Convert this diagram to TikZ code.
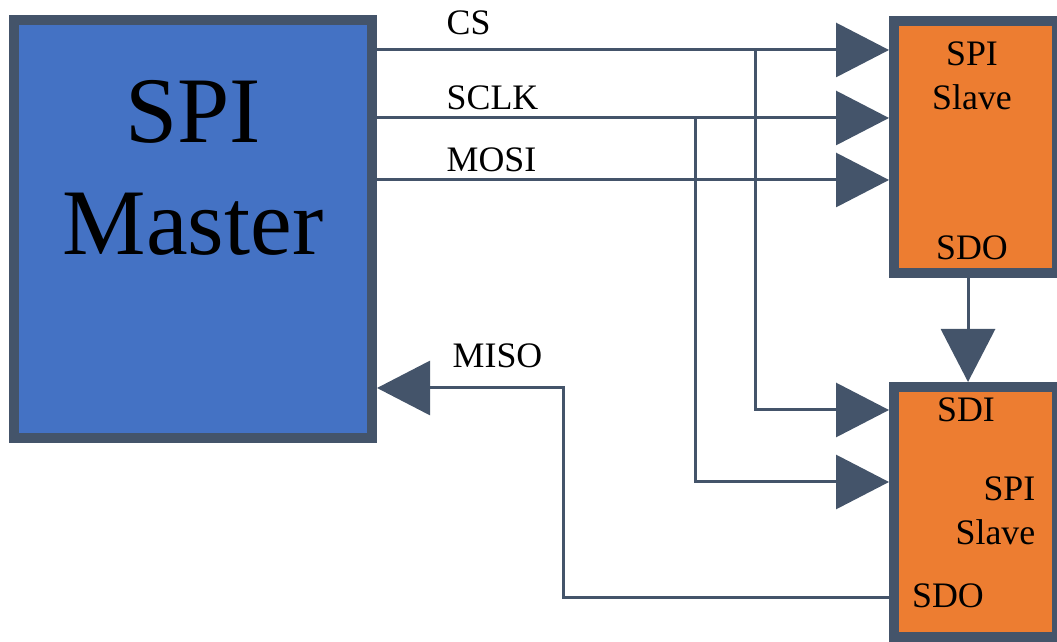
\documentclass[tikz,border=0pt]{standalone}
\usepackage{fontspec}
\setmainfont{Liberation Serif}
\usetikzlibrary{arrows.meta}
\definecolor{mblue}{RGB}{68,114,196}
\definecolor{sorange}{RGB}{237,125,49}
\definecolor{dslate}{RGB}{68,84,106}

\begin{document}
\begin{tikzpicture}[>={Triangle[length=5.3mm,width=5.4mm]},
        master/.style={rectangle,draw=dslate,fill=mblue,line width=1mm,minimum width=3.58cm,minimum height=4.18cm},
        slave/.style={rectangle,draw=dslate,fill=sorange,line width=1mm,minimum width=1.63cm,minimum height=2.52cm},
        sig/.style={draw=dslate,line width=0.3mm},
        lbl/.style={font=\fontsize{10.2}{12.8}\selectfont,inner sep=0pt}]
        \useasboundingbox (0,0) rectangle (10.57,6.41);
        \node[master](m) at (1.93,4.12){};
        \node[slave](s1) at (9.755,4.94){};
        \node[slave,minimum height=2.50cm](s2) at (9.755,1.29){};
        \node[anchor=base,align=center,inner sep=0pt,font=\fontsize{26.7}{32}\selectfont](mname) at (1.93,3.86){SPI\\Master};
        \node[lbl,anchor=base,align=center](s1name) at (9.72,5.31){SPI\\Slave};
        \node[lbl,anchor=base](s1o) at (9.72,3.81){SDO};
        \node[lbl,anchor=base](s2i) at (9.66,2.19){SDI};
        \node[lbl,anchor=base east,align=right](s2name) at (10.36,0.96){SPI\\Slave};
        \node[lbl,anchor=base](s2o) at (9.48,0.34){SDO};
        % signal heights
        \coordinate (cs) at (7.55,5.91);
        \coordinate (sclk) at (6.95,5.23);
        \coordinate (mosi) at (0,4.61);
        \coordinate (sdi) at (0,2.31);
        \coordinate (sclkb) at (0,1.59);
        \coordinate (sdo) at (5.63,0.44);
        \coordinate (miso) at (5.63,2.53);
        \coordinate (sdox) at (9.68,0);
        \foreach \p/\t/\dy in {cs/CS/0.15,sclk/SCLK/0.08,mosi/MOSI/0.08}
          {\draw[sig,->](m.east|-\p)--(s1.west|-\p);
           \node[lbl,anchor=base west] at ([yshift=\dy cm]4.46,0|-\p){\t};}
        \draw[sig,->](cs)|-(s2.west|-sdi);
        \draw[sig,->](sclk)|-(s2.west|-sclkb);
        \draw[sig,->](s1.south-|sdox)--(s2.north-|sdox);
        \draw[sig,->](s2.west|-sdo)--(sdo)--(miso)--(m.east|-miso);
        \node[lbl,anchor=base west](misol) at (4.52,2.73){MISO};
      \end{tikzpicture}
\end{document}
